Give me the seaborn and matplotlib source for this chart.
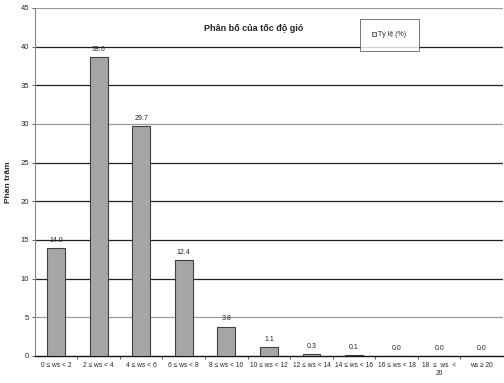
import matplotlib
matplotlib.use("Agg")
import matplotlib.pyplot as plt
import seaborn as sns
import pandas as pd
from matplotlib.patches import Patch

categories = ["0 ≤ ws < 2", "2 ≤ ws < 4", "4 ≤ ws < 6", "6 ≤ ws < 8", "8 ≤ ws < 10",
              "10 ≤ ws < 12", "12 ≤ ws < 14", "14 ≤ ws < 16", "16 ≤ ws < 18",
              "18  ≤  ws  <\n20", "ws ≥ 20"]
percent = [14.0, 38.6, 29.7, 12.4, 3.8, 1.1, 0.3, 0.1, 0.0, 0.0, 0.0]
series_name = "Tỷ lệ (%)"
title = "Phân bố của tốc độ gió"
y_label = "Phần trăm"
y_ticks = [0, 5, 10, 15, 20, 25, 30, 35, 40, 45]

sns.set_theme(style="white")
plt.rcParams["font.family"] = ["Liberation Sans", "DejaVu Sans"]

df = pd.DataFrame({"cat": categories, "val": percent})

fig = plt.figure(figsize=(5.04, 3.83), dpi=100)
ax = fig.add_axes([0.069, 0.0705, 0.929, 0.909])

bar_color = "#a6a6a6"
sns.barplot(data=df, x="cat", y="val", color=bar_color, width=0.42,
            edgecolor="#404040", linewidth=0.8, ax=ax, zorder=3)

for c in ax.containers:
    ax.bar_label(c, labels=[f"{v:.1f}" for v in percent], fontsize=5,
                 padding=3, color="#222222")

ax.set_ylim(0, 45)
ax.set_yticks(y_ticks)
ax.set_xlim(-0.5, len(categories) - 0.5)
for y in y_ticks[1:]:
    ax.axhline(y, color="#202020" if y not in (30, 5, 45) else "#9a9a9a",
               linewidth=0.9, zorder=1)

ax.set_xlabel("")
ax.set_ylabel(y_label, fontsize=6, fontweight="bold", labelpad=6)
ax.tick_params(axis="y", labelsize=5.5, length=2, width=0.6, pad=2,
               left=True, color="#444444")
ax.tick_params(axis="x", labelsize=4.8, length=0, pad=4)
# category boundary ticks on the x axis
ax.set_xticks([i + 0.5 for i in range(len(categories) - 1)], minor=True)
ax.tick_params(axis="x", which="minor", length=2, width=0.6, bottom=True,
               color="#444444")

for s in ["top", "right"]:
    ax.spines[s].set_visible(False)
ax.spines["left"].set_color("#888888")
ax.spines["left"].set_linewidth(0.8)
ax.spines["bottom"].set_color("#111111")
ax.spines["bottom"].set_linewidth(1.0)

ax.text(0.467, 0.94, title, transform=ax.transAxes, ha="center", va="center",
        fontsize=6.5, fontweight="bold", color="#222222")

handle = Patch(facecolor="#e0e0e0", edgecolor="#555555", linewidth=0.6)
leg = ax.legend([handle], [series_name], loc="upper left",
                bbox_to_anchor=(0.694, 0.968), fontsize=5, frameon=True,
                fancybox=False, borderpad=1.8, handlelength=0.6,
                handleheight=0.6, handletextpad=0.3, borderaxespad=0)
leg.get_frame().set_edgecolor("#555555")
leg.get_frame().set_linewidth(0.7)
leg.set_zorder(5)

fig.savefig("out.png", dpi=100, facecolor="white")
